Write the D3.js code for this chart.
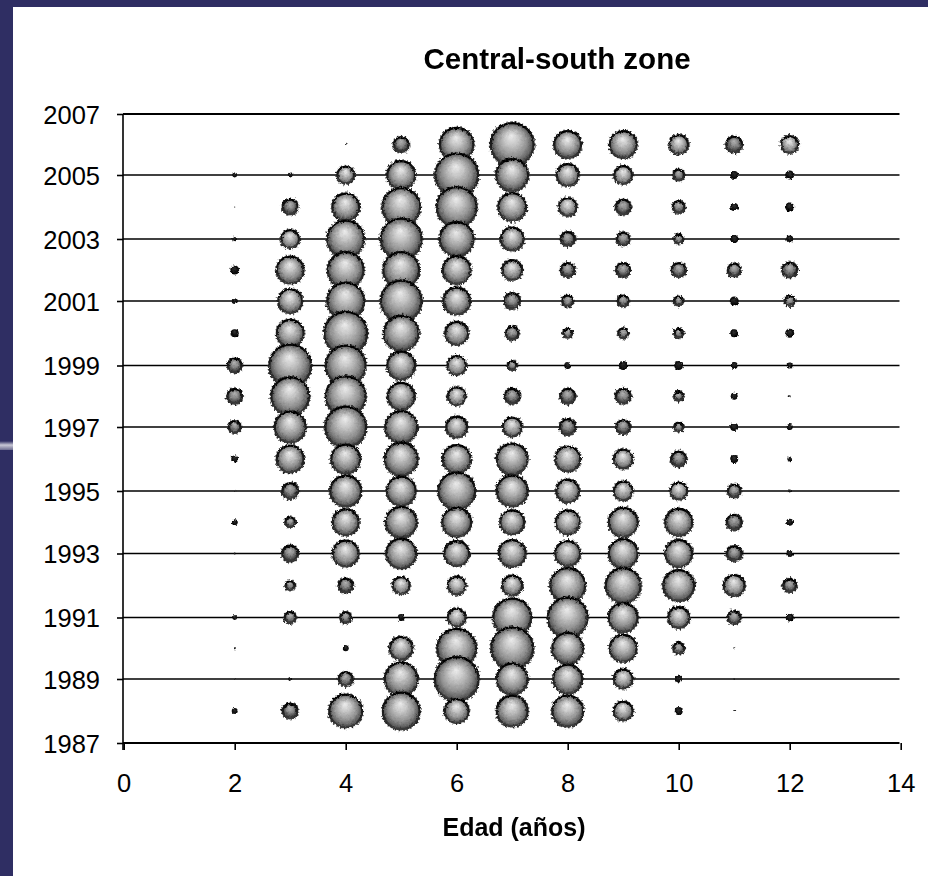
<!DOCTYPE html>
<html><head><meta charset="utf-8">
<style>
html,body{margin:0;padding:0;background:#fff}
svg{display:block}
text{font-family:"Liberation Sans",Arial,sans-serif;fill:#000}
</style>
<script src="https://cdn.jsdelivr.net/npm/d3@7/dist/d3.min.js"></script>
</head><body>
<script>
const ages = [2,3,4,5,6,7,8,9,10,11,12];
const years = [2006,2005,2004,2003,2002,2001,2000,1999,1998,1997,1996,1995,1994,1993,1992,1991,1990,1989,1988];
// Relative bubble size (proportional to the radius squared), row by row, ages 2..12
const y2006 = [0,0,0.5,64,300,484,196,196,100,72,81];
const y2005 = [6,6,81,210,484,272,132,90,36,16,20];
const y2004 = [0.3,64,196,380,420,210,90,64,42,16,20];
const y2003 = [6,90,361,441,306,144,56,49,25,16,12];
const y2002 = [20,196,342,342,210,110,56,56,56,49,64];
const y2001 = [9,156,361,441,196,72,36,36,25,20,30];
const y2000 = [16,196,484,324,144,49,25,30,25,16,20];
const y1999 = [56,462,420,210,100,25,12,20,20,12,9];
const y1998 = [64,380,420,196,90,64,64,64,25,12,1];
const y1997 = [42,256,441,272,121,100,72,56,25,16,9];
const y1996 = [12,196,225,289,210,256,169,100,64,16,6];
const y1995 = [0.3,72,256,225,361,256,144,100,81,49,2];
const y1994 = [9,30,182,256,225,156,156,225,196,64,12];
const y1993 = [1,72,182,240,169,196,169,225,196,64,12];
const y1992 = [0,25,56,81,90,110,324,324,256,121,49];
const y1991 = [6,36,36,12,90,380,420,225,121,49,16];
const y1990 = [1,0,9,144,400,462,256,196,36,1,0];
const y1989 = [0.3,4,56,289,506,256,225,100,12,0.5,0];
const y1988 = [9,64,289,361,156,256,256,100,16,1,0];
const rows = [y2006,y2005,y2004,y2003,y2002,y2001,y2000,y1999,y1998,y1997,y1996,y1995,y1994,y1993,y1992,y1991,y1990,y1989,y1988];
const xTicks = [0,2,4,6,8,10,12,14];
const yTicks = [1987,1989,1991,1993,1995,1997,1999,2001,2003,2005,2007];
const titleText = "Central-south zone";
const xTitle = "Edad (años)";

const W = 928, H = 876;
const svg = d3.select("body").append("svg").attr("width",W).attr("height",H);
const x = d3.scaleLinear().domain([0,14]).range([123.7,900.7]);
const y = d3.scaleLinear().domain(yTicks).range([743,679,617.5,553.5,491,427,365.5,301,239,175,114]);
const size = d3.scaleSqrt().domain([0,484]).range([0,22]);
const left = 123, right = 899.5;

const defs = svg.append("defs");
function radial(id,stops){
  const g = defs.append("radialGradient").attr("id",id).attr("cx","50%").attr("cy","50%").attr("r","50%").attr("fx","48%").attr("fy","30%");
  stops.forEach(([o,c])=>g.append("stop").attr("offset",o).attr("stop-color",c));
}
radial("ball",[[0,"#ececec"],[0.32,"#c6c6c6"],[0.68,"#8f8f8f"],[0.88,"#5e5e5e"],[1,"#222"]]);
radial("ballSmall",[[0,"#b4b4b4"],[0.45,"#888"],[0.8,"#424242"],[1,"#111"]]);
radial("ballTiny",[[0,"#333"],[1,"#000"]]);
const rim = defs.append("linearGradient").attr("id","rim").attr("x1",0).attr("x2",0).attr("y1",0).attr("y2",1);
[[0,"#000"],[0.5,"#1c1c1c"],[1,"#3c3c3c"]].forEach(([o,c])=>rim.append("stop").attr("offset",o).attr("stop-color",c));
const stripe = defs.append("linearGradient").attr("id","stripe").attr("x1",0).attr("x2",0).attr("y1",0).attr("y2",1);
[[0,"#2e2d63"],[0.45,"#c9c9d6"],[1,"#6d6c90"]].forEach(([o,c])=>stripe.append("stop").attr("offset",o).attr("stop-color",c));
const rough = defs.append("filter").attr("id","rough").attr("filterUnits","userSpaceOnUse")
  .attr("x",0).attr("y",0).attr("width",W).attr("height",H);
rough.append("feTurbulence").attr("type","fractalNoise").attr("baseFrequency",0.4).attr("numOctaves",2).attr("seed",4).attr("result","n");
rough.append("feDisplacementMap").attr("in","SourceGraphic").attr("in2","n").attr("scale",3.2).attr("xChannelSelector","R").attr("yChannelSelector","G").attr("result","d");
rough.append("feGaussianBlur").attr("in","d").attr("stdDeviation",0.4);

// frame
svg.append("rect").attr("width",W).attr("height",7).attr("fill","#2f2e63");
svg.append("rect").attr("width",13).attr("height",H).attr("fill","#2f2e63");
svg.append("rect").attr("y",441).attr("width",13).attr("height",9).attr("fill","url(#stripe)");

// grid
svg.append("g").selectAll("line").data(yTicks).join("line")
  .attr("x1",left).attr("x2",right)
  .attr("y1",d=>y(d)).attr("y2",d=>y(d))
  .attr("stroke","#000").attr("stroke-width",d=>(d===2007||d===1987)?1.8:1.5);

// axes
const gy = svg.append("g").attr("transform",`translate(${left},0)`)
  .call(d3.axisLeft(y).tickValues(yTicks).tickFormat(d3.format("d")).tickSize(6).tickPadding(17).tickSizeOuter(0));
const gx = svg.append("g").attr("transform",`translate(0,743)`)
  .call(d3.axisBottom(x).tickValues(xTicks).tickFormat(d3.format("d")).tickSize(7).tickPadding(24).tickSizeOuter(0));
[gy,gx].forEach(g=>{
  g.selectAll("path,line").attr("stroke","#000").attr("stroke-width",1.6);
  g.selectAll("text").attr("font-size",25.5).attr("font-family",'"Liberation Sans",Arial,sans-serif');
});
gy.selectAll("text").attr("dy","0.37em");
gx.select("path").remove();
gy.select("path").attr("d","M0,114V750");

// bubbles
const points = [];
years.forEach((yr,i)=>rows[i].forEach((v,j)=>{ if(v>0) points.push({year:yr,age:ages[j],value:v}); }));
const g = svg.append("g").attr("filter","url(#rough)");
const b = g.selectAll("g.b").data(points).join("g").attr("class","b")
  .attr("transform",d=>`translate(${x(d.age)},${y(d.year)})`);
b.append("circle").attr("r",d=>size(d.value))
  .attr("fill",d=>{const r=size(d.value);return r<4.5?"url(#ballTiny)":r<8.5?"url(#ballSmall)":"url(#ball)";});
// dark rim
b.filter(d=>size(d.value)>=4.5).append("circle").attr("r",d=>size(d.value)-0.6)
  .attr("fill","none").attr("stroke","url(#rim)").attr("stroke-width",d=>size(d.value)<8.5?2.4:2.2);
b.filter(d=>size(d.value)>=5).append("circle").attr("r",d=>size(d.value)+0.6)
  .attr("fill","none").attr("stroke","#222").attr("stroke-width",1.6)
  .attr("stroke-dasharray","1.2 2.8");

// titles
svg.append("text").attr("x",557).attr("y",69).attr("text-anchor","middle")
  .attr("font-size",29.5).attr("font-weight","bold").text(titleText);
svg.append("text").attr("x",514).attr("y",836).attr("text-anchor","middle")
  .attr("font-size",25).attr("font-weight","bold").text(xTitle);
</script>
</body></html>
